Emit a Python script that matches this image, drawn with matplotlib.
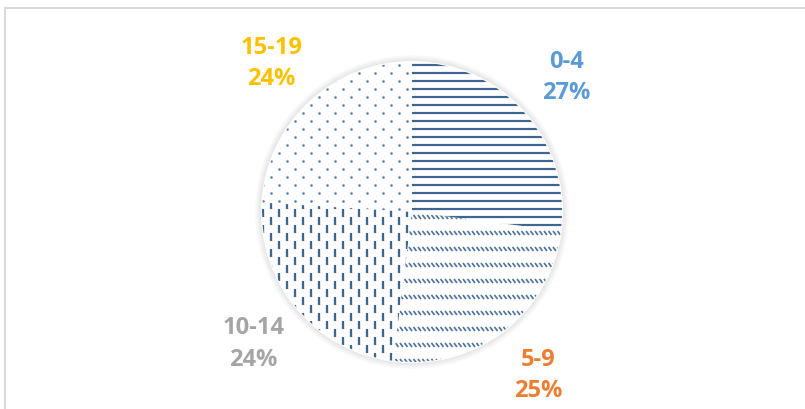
import numpy as np
import matplotlib
matplotlib.use('Agg')
import matplotlib.pyplot as plt
from matplotlib.collections import LineCollection
from matplotlib.patches import Circle, Rectangle

# ---- data ----
categories = ['0-4', '5-9', '10-14', '15-19']
shares = [27, 25, 24, 24]
label_colors = ['#5B9BD5', '#ED7D31', '#A5A5A5', '#FFC000']

# ---- layout (pixels) ----
W, H = 805, 410
CX, CY, R = 412, 197, 150
PX = 1.0 / R
HATCH = '#3F6692'

fig = plt.figure(figsize=(W / 100, H / 100), dpi=100)
ax = fig.add_axes([0, 0, 1, 1])

labels = [f'{c}\n{s}%' for c, s in zip(categories, shares)]
wedges, texts = ax.pie(
    shares, labels=labels, startangle=90, counterclock=False, radius=1,
    labeldistance=1.37,
    wedgeprops=dict(facecolor='white', edgecolor='white', linewidth=1.5, zorder=2),
    textprops=dict(fontsize=17, fontweight='bold', family=['Open Sans', 'DejaVu Sans']))
for t, c in zip(texts, label_colors):
    t.set_color(c)
    t.set_ha('center')
    t.set_va('center')
    t.set_linespacing(1.4)

ax.set_xlim(-CX / R, (W - CX) / R)
ax.set_ylim(-CY / R, (H - CY) / R)
ax.set_aspect('equal')
ax.axis('off')

# soft shadow around pie
for k in range(7, 0, -1):
    ax.add_patch(Circle((0, 0), 1 + k * PX, facecolor='black', edgecolor='none',
                        alpha=0.014, zorder=1))

lw_pt = lambda px: px * 72 / 100
ext = 1.1

# 0-4 : horizontal lines
segs = []
for y in np.arange(-ext, ext, 8 * PX):
    segs.append([(-ext, y), (ext, y)])
lc = LineCollection(segs, colors=HATCH, linewidths=lw_pt(2.2), zorder=3)
ax.add_collection(lc)
lc.set_clip_path(wedges[0])

# 5-9 : rows of short diagonal dashes
segs = []
for y in np.arange(-ext, ext, 16 * PX):
    for x in np.arange(-ext, ext, 4.5 * PX):
        segs.append([(x, y + 2 * PX), (x + 3 * PX, y - 2 * PX)])
lc = LineCollection(segs, colors='#4A72A0', linewidths=lw_pt(1.7), zorder=3)
ax.add_collection(lc)
lc.set_clip_path(wedges[1])

# 10-14 : staggered vertical dashes
segs = []
for i, x in enumerate(np.arange(-ext, ext, 8 * PX)):
    off = (i % 2) * 8 * PX
    for y in np.arange(-ext, ext, 16 * PX):
        segs.append([(x, y + off), (x, y + off + 8 * PX)])
lc = LineCollection(segs, colors=HATCH, linewidths=lw_pt(2.3), zorder=3)
ax.add_collection(lc)
lc.set_clip_path(wedges[2])

# 15-19 : staggered dots
xs, ys = [], []
for j, y in enumerate(np.arange(-ext, ext, 8 * PX)):
    off = (j % 2) * 8 * PX
    for x in np.arange(-ext, ext, 16 * PX):
        xs.append(x + off)
        ys.append(y)
sc = ax.scatter(xs, ys, s=3.5, marker='o', color='#5A80AD', linewidths=0, zorder=3)
sc.set_clip_path(wedges[3])

# outer frame
fig.patches.append(Rectangle((5 / W, -0.05), 1.1, (H - 8.5) / H + 0.05,
                             transform=fig.transFigure, fill=False,
                             edgecolor='#D9D9D9', linewidth=lw_pt(2)))

fig.savefig('out.png', dpi=100)
